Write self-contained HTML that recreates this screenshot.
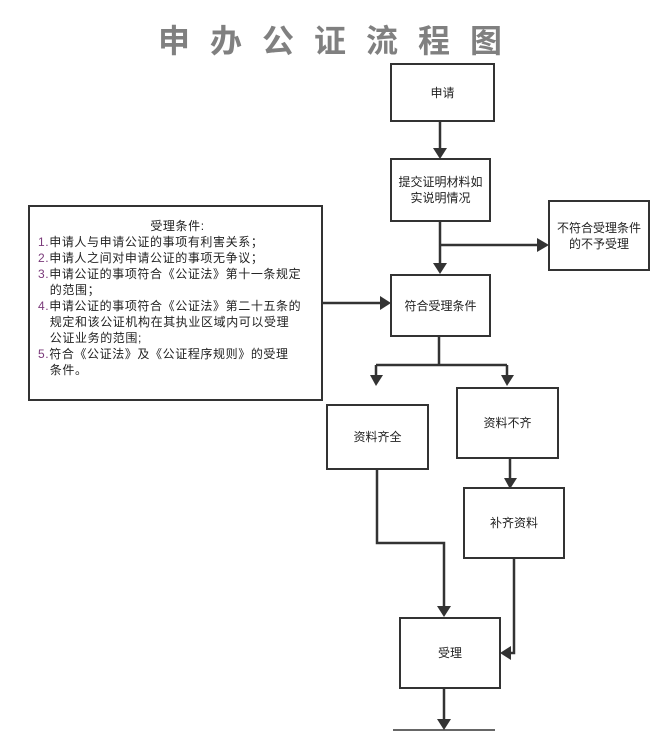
<!DOCTYPE html>
<html><head><meta charset="utf-8"><style>
body{margin:0;width:670px;height:731px;background:#fff;position:relative;overflow:hidden;font-family:"Liberation Sans","Noto Sans CJK SC",sans-serif;color:#222}
.t{position:absolute;left:158px;top:16px;font-size:32px;font-weight:bold;color:#808080;letter-spacing:20px;white-space:nowrap}
.b{position:absolute;box-sizing:border-box;border:2px solid #333;display:flex;align-items:center;justify-content:center;text-align:center;font-size:12px;line-height:16px}
.l{position:absolute;left:28px;top:205px;width:295px;height:196px;box-sizing:border-box;border:2px solid #333;font-size:12px;letter-spacing:0.6px;line-height:16px;padding:11px 4px 0 8px;white-space:nowrap}
.l p{margin:0}
.n{color:#7a3a7a}
svg{position:absolute;left:0;top:0}
</style></head><body>
<div class="t">申办公证流程图</div>
<svg width="670" height="731">
<g stroke="#333" stroke-width="2.5" fill="none">
<line x1="440" y1="121" x2="440" y2="150"/>
<line x1="440" y1="221" x2="440" y2="266"/>
<line x1="440" y1="245" x2="540" y2="245"/>
<line x1="322" y1="303" x2="382" y2="303"/>
<line x1="439" y1="336" x2="439" y2="365"/>
<line x1="376" y1="365" x2="507" y2="365"/>
<line x1="376" y1="365" x2="376" y2="378"/>
<line x1="507" y1="365" x2="507" y2="378"/>
<line x1="510" y1="458" x2="510" y2="480"/>
<polyline points="377,469 377,543 444,543 444,608"/>
<polyline points="514,558 514,653 508,653"/>
<line x1="444" y1="688" x2="444" y2="722"/>
</g>
<line x1="393" y1="730" x2="495" y2="730" stroke="#333" stroke-width="1.5"/>
<g fill="#333">
<polygon points="433,148 447,148 440,159"/>
<polygon points="433,263 447,263 440,274"/>
<polygon points="537,238 537,252 549,245"/>
<polygon points="380,296 380,310 391,303"/>
<polygon points="370,375 383,375 376,386"/>
<polygon points="501,375 514,375 507,386"/>
<polygon points="504,478 517,478 510,489"/>
<polygon points="437,606 451,606 444,617"/>
<polygon points="511,646 511,660 500,653"/>
<polygon points="437,719 451,719 444,730"/>
</g>
</svg>
<div class="b" style="left:390px;top:63px;width:105px;height:59px">申请</div>
<div class="b" style="left:390px;top:158px;width:101px;height:64px">提交证明材料如<br>实说明情况</div>
<div class="b" style="left:548px;top:200px;width:102px;height:71px">不符合受理条件<br>的不予受理</div>
<div class="b" style="left:390px;top:274px;width:101px;height:63px">符合受理条件</div>
<div class="b" style="left:326px;top:404px;width:103px;height:66px">资料齐全</div>
<div class="b" style="left:456px;top:387px;width:103px;height:72px">资料不齐</div>
<div class="b" style="left:463px;top:487px;width:102px;height:72px">补齐资料</div>
<div class="b" style="left:399px;top:617px;width:102px;height:72px">受理</div>
<div class="l">
<div style="text-align:center">受理条件:</div>
<p><span class="n">1.</span>申请人与申请公证的事项有利害关系；</p>
<p><span class="n">2.</span>申请人之间对申请公证的事项无争议；</p>
<p><span class="n">3.</span>申请公证的事项符合《公证法》第十一条规定<br>&nbsp;&nbsp;&nbsp;的范围；</p>
<p><span class="n">4.</span>申请公证的事项符合《公证法》第二十五条的<br>&nbsp;&nbsp;&nbsp;规定和该公证机构在其执业区域内可以受理<br>&nbsp;&nbsp;&nbsp;公证业务的范围;</p>
<p><span class="n">5.</span>符合《公证法》及《公证程序规则》的受理<br>&nbsp;&nbsp;&nbsp;条件。</p>
</div>
</body></html>
